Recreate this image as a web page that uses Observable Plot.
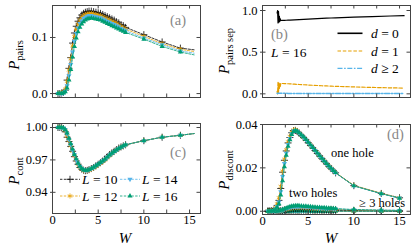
<!DOCTYPE html>
<html><head><meta charset="utf-8">
<script src="https://cdn.jsdelivr.net/npm/d3@7"></script>
<script src="https://cdn.jsdelivr.net/npm/@observablehq/plot@0.6"></script>
<style>
body{margin:0;background:#fff}
#fig{position:relative;width:416px;height:252px;background:#fff;font-family:"Liberation Serif",serif}
#fig svg{position:absolute;overflow:visible}
</style></head><body><div id="fig"></div>
<script>
// ---------- data ----------
const Ls = [10, 12, 14, 16];
const W = [0.6,0.8,1.0,1.2,1.4,1.6,1.8,2.0,2.2,2.4,2.6,2.8,3.0,3.2,3.4,3.6,3.8,4.0,4.25,4.5,4.75,5.0,5.25,5.5,5.75,6.0,6.25,6.5,6.75,7.0,7.25,7.5,7.75,8.0,10,12,14,15.5];
const Wd = [0.6,0.8,1.0,1.2,1.4,1.6,1.8,2.0,2.2,2.4,2.6,2.8,3.0,3.2,3.4,3.6,3.8,4.0,4.25,4.5,4.75,5.0,5.25,5.5,5.75,6.0,6.25,6.5,6.75,7.0,7.25,7.5,7.75,8.0,10,13,15];
const Wb = [1.6,1.65,1.7,1.75,1.8,1.85,1.9,1.95,2.0,2.2,2.4,2.6,2.8,3.0,3.5,4.0,4.5,5.0,5.5,6.0,6.5,7.0,7.5,8.0,10,12,14,15.5];

// (a) P_pairs
const pairsL10 = [0.000,0.000,0.001,0.002,0.006,0.024,0.045,0.064,0.090,0.108,0.120,0.129,0.135,0.140,0.143,0.145,0.146,0.147,0.147,0.146,0.145,0.144,0.143,0.141,0.139,0.137,0.135,0.133,0.131,0.128,0.126,0.123,0.121,0.118,0.105,0.092,0.081,0.078];
const pairsL12 = [0.000,0.000,0.001,0.003,0.008,0.022,0.042,0.062,0.085,0.102,0.115,0.124,0.131,0.136,0.139,0.141,0.142,0.143,0.143,0.142,0.141,0.140,0.139,0.137,0.135,0.133,0.131,0.129,0.127,0.125,0.122,0.120,0.117,0.115,0.102,0.089,0.079,0.075];
const pairsL14 = [0.000,0.000,0.000,0.001,0.004,0.014,0.032,0.052,0.074,0.093,0.107,0.117,0.125,0.130,0.134,0.136,0.138,0.139,0.139,0.138,0.137,0.136,0.135,0.133,0.131,0.129,0.127,0.125,0.123,0.121,0.119,0.116,0.114,0.112,0.099,0.087,0.076,0.072];
const pairsL16 = [0.000,0.000,0.000,0.001,0.003,0.010,0.024,0.043,0.065,0.084,0.099,0.110,0.118,0.124,0.128,0.131,0.133,0.134,0.135,0.134,0.133,0.132,0.131,0.129,0.127,0.125,0.123,0.121,0.119,0.117,0.115,0.113,0.111,0.109,0.097,0.084,0.074,0.069];

// (b) P_pairs sep, L = 16
const sepD0 = [0.97,1.00,0.85,0.99,0.86,0.93,0.87,0.90,0.880,0.881,0.882,0.883,0.884,0.885,0.887,0.890,0.894,0.897,0.900,0.903,0.906,0.908,0.910,0.912,0.920,0.927,0.934,0.938];
const sepD1 = [0.03,0.00,0.14,0.01,0.13,0.06,0.12,0.09,0.125,0.124,0.123,0.122,0.121,0.120,0.116,0.112,0.109,0.106,0.103,0.100,0.097,0.095,0.092,0.090,0.083,0.077,0.072,0.069];
const sepD2 = [0.006,0.004,0.008,0.005,0.007,0.006,0.006,0.006,0.006,0.006,0.006,0.006,0.005,0.005,0.005,0.005,0.005,0.005,0.004,0.004,0.004,0.004,0.004,0.004,0.004,0.003,0.003,0.003];

// (c) P_cont
const contL10 = [1.000,1.000,0.9998,0.999,0.996,0.991,0.987,0.9825,0.978,0.973,0.969,0.966,0.963,0.9615,0.9605,0.9600,0.9603,0.961,0.962,0.963,0.9645,0.966,0.9675,0.969,0.971,0.973,0.975,0.9765,0.978,0.9795,0.981,0.982,0.983,0.984,0.9878,0.991,0.9928,0.9944];
const contL12 = [1.000,1.000,0.9998,0.9992,0.997,0.992,0.988,0.983,0.978,0.974,0.970,0.966,0.9635,0.9615,0.9605,0.960,0.960,0.9607,0.9615,0.9627,0.964,0.9655,0.967,0.9685,0.970,0.972,0.974,0.9758,0.9775,0.979,0.9805,0.9818,0.983,0.984,0.9878,0.991,0.9928,0.9944];
const contL14 = [1.000,1.000,1.000,0.9995,0.998,0.994,0.989,0.984,0.979,0.975,0.970,0.967,0.964,0.962,0.961,0.9603,0.9603,0.961,0.962,0.963,0.9645,0.966,0.9675,0.969,0.9705,0.9725,0.9745,0.976,0.9775,0.979,0.9805,0.9818,0.983,0.984,0.9878,0.991,0.9928,0.9944];
const contL16 = [1.000,1.000,1.000,0.9996,0.998,0.995,0.990,0.985,0.980,0.975,0.971,0.967,0.964,0.962,0.9607,0.9603,0.9605,0.961,0.962,0.9632,0.9646,0.966,0.9676,0.969,0.9706,0.9726,0.9745,0.9762,0.9778,0.9792,0.9806,0.9818,0.983,0.9841,0.9878,0.991,0.9928,0.9944];

// (d) P_discont: one hole, two holes, >= 3 holes
const oneL10 = [0.0000,0.0000,0.0001,0.0004,0.0012,0.0027,0.0050,0.0105,0.0180,0.0235,0.0278,0.0315,0.0340,0.0362,0.0372,0.0373,0.0368,0.0360,0.0350,0.0340,0.0329,0.0316,0.0304,0.0292,0.0280,0.0267,0.0255,0.0243,0.0231,0.0219,0.0208,0.0197,0.0187,0.0177,0.0118,0.0082,0.0062];
const oneL12 = [0.0000,0.0000,0.0002,0.0006,0.0016,0.0034,0.0062,0.0115,0.0185,0.0240,0.0283,0.0320,0.0345,0.0365,0.0375,0.0376,0.0370,0.0362,0.0351,0.0341,0.0330,0.0318,0.0306,0.0294,0.0281,0.0269,0.0256,0.0244,0.0232,0.0220,0.0209,0.0198,0.0188,0.0178,0.0119,0.0083,0.0062];
const oneL14 = [0.0000,0.0000,0.0001,0.0003,0.0010,0.0022,0.0043,0.0090,0.0160,0.0220,0.0268,0.0308,0.0336,0.0358,0.0370,0.0373,0.0369,0.0361,0.0351,0.0341,0.0330,0.0317,0.0305,0.0293,0.0280,0.0268,0.0255,0.0243,0.0231,0.0219,0.0208,0.0197,0.0187,0.0177,0.0117,0.0081,0.0061];
const oneL16 = [0.0000,0.0000,0.0001,0.0002,0.0008,0.0018,0.0035,0.0075,0.0140,0.0205,0.0258,0.0300,0.0330,0.0354,0.0368,0.0372,0.0369,0.0362,0.0352,0.0342,0.0331,0.0318,0.0306,0.0294,0.0281,0.0268,0.0256,0.0244,0.0232,0.0220,0.0209,0.0198,0.0188,0.0178,0.0117,0.0081,0.0060];
const twoL10 = [0,0,0,0,0,0.00005,0.0001,0.0002,0.0004,0.0006,0.0008,0.0009,0.0010,0.0011,0.0011,0.0012,0.0012,0.0012,0.0012,0.0011,0.0011,0.0011,0.0010,0.0010,0.0009,0.0009,0.0009,0.0008,0.0008,0.0008,0.0007,0.0007,0.0007,0.0006,0.0004,0.0003,0.0002];
const twoL12 = [0,0,0,0,0,0.0001,0.0002,0.0003,0.0005,0.0008,0.0010,0.0012,0.0014,0.0015,0.0016,0.0017,0.0017,0.0017,0.0017,0.0016,0.0016,0.0015,0.0015,0.0014,0.0013,0.0013,0.0012,0.0012,0.0011,0.0011,0.0010,0.0010,0.0009,0.0009,0.0006,0.0004,0.0003];
const twoL14 = [0,0,0,0,0,0.0001,0.0002,0.0003,0.0006,0.0009,0.0012,0.0015,0.0017,0.0019,0.0020,0.0021,0.0021,0.0021,0.0021,0.0020,0.0019,0.0019,0.0018,0.0017,0.0016,0.0016,0.0015,0.0014,0.0014,0.0013,0.0013,0.0012,0.0011,0.0011,0.0007,0.0005,0.0004];
const twoL16 = [0,0,0,0,0,0.0001,0.0002,0.0004,0.0007,0.0010,0.0014,0.0018,0.0021,0.0023,0.0024,0.0025,0.0025,0.0025,0.0024,0.0023,0.0023,0.0022,0.0021,0.0020,0.0019,0.0018,0.0017,0.0016,0.0016,0.0015,0.0014,0.0014,0.0013,0.0012,0.0008,0.0005,0.0004];
const threeL10 = [0,0,0,0,0,0,0,0,0,0.00001,0.00002,0.00003,0.00004,0.00005,0.00005,0.00006,0.00006,0.00006,0.00006,0.00006,0.00005,0.00005,0.00005,0.00005,0.00004,0.00004,0.00004,0.00004,0.00003,0.00003,0.00003,0.00003,0.00003,0.00003,0.00002,0.00001,0.00001];
const threeL12 = [0,0,0,0,0,0,0,0,0.00001,0.00002,0.00004,0.00006,0.00008,0.00009,0.0001,0.0001,0.0001,0.0001,0.0001,0.0001,0.00009,0.00009,0.00008,0.00008,0.00007,0.00007,0.00007,0.00006,0.00006,0.00006,0.00005,0.00005,0.00005,0.00005,0.00003,0.00002,0.00002];
const threeL14 = [0,0,0,0,0,0,0,0,0.00001,0.00003,0.00006,0.00009,0.00011,0.00013,0.00014,0.00015,0.00015,0.00015,0.00015,0.00014,0.00014,0.00013,0.00012,0.00012,0.00011,0.00011,0.0001,0.0001,0.00009,0.00009,0.00008,0.00008,0.00008,0.00007,0.00005,0.00003,0.00002];
const threeL16 = [0,0,0,0,0,0,0,0,0.00002,0.00004,0.00008,0.00012,0.00015,0.00017,0.00019,0.0002,0.0002,0.0002,0.0002,0.00019,0.00018,0.00017,0.00016,0.00015,0.00015,0.00014,0.00013,0.00013,0.00012,0.00012,0.00011,0.00011,0.0001,0.0001,0.00006,0.00004,0.00003];

// tick values
const xTickMarks = [0, 2.5, 5, 7.5, 10, 12.5, 15];
const xTickLabels = [0, 5, 10, 15];
const yTicksA = [0, 0.1];
const yTicksB = [0, 0.5, 1.0];
const yTicksC = [0.94, 0.97, 1.00];
const yTicksD = [0, 0.02, 0.04];

// ---------- styles ----------
const col = {10: "#000000", 12: "#e69f00", 14: "#56b4e9", 16: "#009e73"};
const sym = {
  10: {symbol: "plus", r: 2.4, stroke: col[10], fill: "none", strokeWidth: 0.8},
  12: {symbol: "asterisk", r: 2.4, stroke: col[12], fill: "none", strokeWidth: 0.8},
  14: {symbol: "triangle", r: 1.9, fill: col[14], stroke: "none", rotate: 180},
  16: {symbol: "triangle", r: 1.9, fill: col[16], stroke: "none"}
};
const rowsOf = (ws, vs, L) => ws.map((w, i) => ({W: w, v: vs[i], L}));

function seriesMarks(ws, vs, L, maxMarkerW = Infinity) {
  const rows = rowsOf(ws, vs, L);
  return [
    Plot.line(rows, {x: "W", y: "v", stroke: col[L], strokeWidth: 0.8, strokeDasharray: "2.4,1.4"}),
    Plot.dot(rows.filter(d => d.W <= maxMarkerW), {x: "W", y: "v", ...sym[L]})
  ];
}

const frameCol = "#444";
function makePanel(o) {
  const fw = o.width - o.ml - o.mr, fh = o.height - o.mt - o.mb;
  const marks = [
    ...o.marks,
    Plot.frame({stroke: frameCol, strokeWidth: 1}),
    Plot.tickX(xTickMarks, {x: d => d, insetTop: fh - 3.5, stroke: frameCol}),
    Plot.tickX(xTickMarks, {x: d => d, insetBottom: fh - 3.5, stroke: frameCol}),
    Plot.tickY(o.yt, {y: d => d, insetRight: fw - 3.5, stroke: frameCol}),
    Plot.tickY(o.yt, {y: d => d, insetLeft: fw - 3.5, stroke: frameCol}),
    Plot.axisY(o.yt, {anchor: "left", tickSize: 2, tickPadding: 3, tickFormat: o.fmt, label: null, stroke: frameCol, fill: "#000"})
  ];
  if (o.xlab) marks.push(Plot.axisX(xTickLabels, {anchor: "bottom", tickSize: 0, tickPadding: 2, label: null, fill: "#000"}));
  const svg = Plot.plot({
    width: o.width, height: o.height,
    marginLeft: o.ml, marginRight: o.mr, marginTop: o.mt, marginBottom: o.mb,
    x: {domain: [0, 16.2], axis: null, label: null},
    y: {domain: o.ydom, axis: null, label: null},
    style: {fontFamily: "'Liberation Serif', serif", fontSize: "12.5px", background: "transparent", color: "#000", overflow: "visible"},
    marks
  });
  svg.style.left = o.left + "px";
  svg.style.top = o.top + "px";
  document.getElementById("fig").appendChild(svg);
  return svg;
}

// (a)
makePanel({left: 0, top: 0, width: 210, height: 120, ml: 52, mr: 10, mt: 5, mb: 23,
  ydom: [-0.007, 0.157], yt: yTicksA, fmt: ".1f", xlab: false,
  marks: [
    ...seriesMarks(W, pairsL10, 10, 14), ...seriesMarks(W, pairsL12, 12, 14),
    ...seriesMarks(W, pairsL14, 14, 14), ...seriesMarks(W, pairsL16, 16, 14)
  ]});

// (b)
makePanel({left: 210, top: 0, width: 206, height: 120, ml: 52, mr: 6, mt: 5, mb: 23,
  ydom: [-0.044, 1.06], yt: yTicksB, fmt: ".1f", xlab: false,
  marks: [
    Plot.line(rowsOf(Wb, sepD1, 16), {x: "W", y: "v", stroke: "#e69f00", strokeWidth: 1.2, strokeDasharray: "3.5,1.8"}),
    Plot.line(rowsOf(Wb, sepD2, 16), {x: "W", y: "v", stroke: "#56b4e9", strokeWidth: 1.5, strokeDasharray: "5,1.6,1.6,1.6"}),
    Plot.line(rowsOf(Wb, sepD0, 16), {x: "W", y: "v", stroke: "#000", strokeWidth: 1.2})
  ]});

// (c)
makePanel({left: 0, top: 120, width: 210, height: 132, ml: 52, mr: 10, mt: 3, mb: 39,
  ydom: [0.9204, 1.0037], yt: yTicksC, fmt: ".2f", xlab: true,
  marks: [
    ...seriesMarks(W, contL10, 10, 14), ...seriesMarks(W, contL12, 12, 14),
    ...seriesMarks(W, contL14, 14, 14), ...seriesMarks(W, contL16, 16, 14)
  ]});

// (d)
makePanel({left: 210, top: 120, width: 206, height: 132, ml: 52, mr: 6, mt: 4, mb: 38,
  ydom: [-0.0015, 0.0400], yt: yTicksD, fmt: ".2f", xlab: true,
  marks: [
    ...seriesMarks(Wd, threeL10, 10), ...seriesMarks(Wd, threeL12, 12),
    ...seriesMarks(Wd, threeL14, 14), ...seriesMarks(Wd, threeL16, 16),
    ...seriesMarks(Wd, twoL10, 10), ...seriesMarks(Wd, twoL12, 12),
    ...seriesMarks(Wd, twoL14, 14), ...seriesMarks(Wd, twoL16, 16),
    ...seriesMarks(Wd, oneL10, 10), ...seriesMarks(Wd, oneL12, 12),
    ...seriesMarks(Wd, oneL14, 14), ...seriesMarks(Wd, oneL16, 16)
  ]});

// ---------- overlay: axis titles, panel letters, legends, annotations ----------
const ov = d3.select("#fig").append("svg")
  .attr("width", 416).attr("height", 252)
  .style("left", "0px").style("top", "0px")
  .attr("font-family", "'Liberation Serif', serif");

function ylab(x, y, main, sub) {
  const t = ov.append("text").attr("transform", `translate(${x},${y}) rotate(-90)`)
    .attr("text-anchor", "middle").attr("font-size", 15);
  t.append("tspan").attr("font-style", "italic").text(main);
  t.append("tspan").attr("font-size", 10.5).attr("dy", 3.5).text(sub);
}
ylab(19, 55, "P", "pairs");
ylab(229, 51, "P", "pairs sep");
ylab(19, 171, "P", "cont");
ylab(229, 170, "P", "discont");

function xlab(x, y) {
  ov.append("text").attr("x", x).attr("y", y).attr("text-anchor", "middle")
    .attr("font-size", 15).attr("font-style", "italic").text("W");
}
xlab(125, 243);
xlab(331, 243);

function txt(x, y, s, size = 13, fill = "#000", anchor = "start") {
  return ov.append("text").attr("x", x).attr("y", y).attr("font-size", size)
    .attr("fill", fill).attr("text-anchor", anchor).text(s);
}
txt(170, 25, "(a)", 14.5, "#888");
txt(271, 39, "(b)", 14.5, "#888");
txt(170, 157, "(c)", 14.5, "#888");
txt(387, 139, "(d)", 14.5, "#888");

function mathLabel(x, y, v, rest, size = 13.5) {
  const t = ov.append("text").attr("x", x).attr("y", y).attr("font-size", size);
  t.append("tspan").attr("font-style", "italic").text(v);
  t.append("tspan").text(rest);
}
mathLabel(271, 56.5, "L", " = 16");

// (b) legend
const bLeg = [
  {y: 33.3, stroke: "#000", dash: null, w: 1.6, v: "d", rest: " = 0"},
  {y: 51, stroke: "#e69f00", dash: "3.5,1.8", w: 1.2, v: "d", rest: " = 1"},
  {y: 68.3, stroke: "#56b4e9", dash: "5,1.6,1.6,1.6", w: 1.3, v: "d", rest: " \u2265 2"}
];
bLeg.forEach(e => {
  ov.append("line").attr("x1", 337.5).attr("x2", 362.5).attr("y1", e.y).attr("y2", e.y)
    .attr("stroke", e.stroke).attr("stroke-width", e.w).attr("stroke-dasharray", e.dash);
  mathLabel(371, e.y + 4.5, e.v, e.rest);
});

// (c) legend
const cLeg = [
  {L: 10, x: 60, y: 179.3}, {L: 14, x: 120, y: 179.3},
  {L: 12, x: 60, y: 196}, {L: 16, x: 120, y: 196}
];
const d3sym = {plus: d3.symbolPlus, asterisk: d3.symbolAsterisk, triangle: d3.symbolTriangle};
cLeg.forEach(e => {
  const s = sym[e.L];
  ov.append("line").attr("x1", e.x).attr("x2", e.x + 20).attr("y1", e.y).attr("y2", e.y)
    .attr("stroke", col[e.L]).attr("stroke-width", 0.8).attr("stroke-dasharray", "2.4,1.4");
  ov.append("path").attr("d", d3.symbol(d3sym[s.symbol], Math.PI * s.r * s.r)())
    .attr("transform", `translate(${e.x + 10},${e.y}) rotate(${s.rotate || 0})`)
    .attr("fill", s.fill).attr("stroke", s.stroke).attr("stroke-width", s.strokeWidth || 1);
  mathLabel(e.x + 22, e.y + 4.5, "L", " = " + e.L);
});

// (d) annotations
txt(331, 157, "one hole", 12.5);
txt(289, 197, "two holes", 12.5);
txt(405, 207, "\u2265 3 holes", 12.5, "#000", "end");
</script></body></html>
